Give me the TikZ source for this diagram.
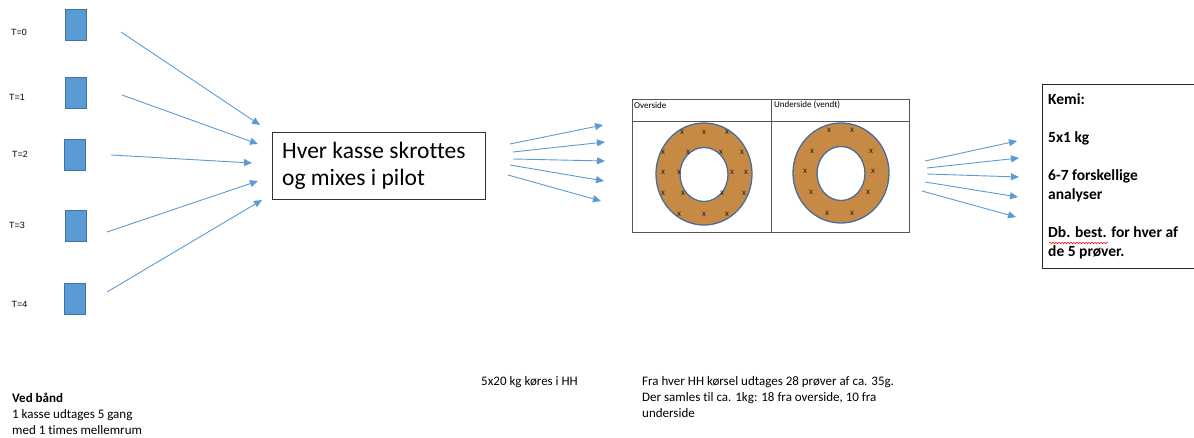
\documentclass[tikz,border=0pt]{standalone}
\usepackage{fontspec}
\setmainfont{Carlito}[Ligatures=NoCommon]
\newfontfamily\arialf{Liberation Sans}
\usetikzlibrary{arrows.meta,decorations.pathmorphing}
\definecolor{boxblue}{HTML}{5B9BD5}
\definecolor{boxedge}{HTML}{41729F}
\definecolor{arrblue}{HTML}{5B9BD5}
\definecolor{ringfill}{HTML}{C68A45}
\definecolor{ringedge}{HTML}{4A6C9B}
\definecolor{tablegray}{HTML}{555555}
\tikzset{
  crate/.style={draw=boxedge,fill=boxblue,line width=0.8pt,minimum width=21pt,minimum height=31pt,inner sep=0pt},
  tlabel/.style={font=\arialf\fontsize{9}{11}\selectfont,inner sep=0pt},
  flow/.style={draw=arrblue,line width=0.9pt,-{Triangle[length=8pt,width=7pt]}},
  mainbox/.style={draw=black!80,line width=0.9pt,minimum width=213pt,minimum height=67pt,inner sep=0pt},
  bodytext/.style={font=\fontsize{13}{16}\selectfont,align=left,inner sep=0pt,anchor=north west},
  xmark/.style={font=\fontsize{9}{10}\selectfont,text=black!85,inner sep=0pt},
  ring/.style={fill=ringfill,draw=ringedge,line width=1.3pt,even odd rule},
}
\begin{document}
\begin{tikzpicture}[x=1pt,y=-1pt]
\useasboundingbox (0,0) rectangle (1194,438);
% crates
\node[crate] (c0) at (75.5,25) {};
\node[crate] (c1) at (76,92.5) {};
\node[crate] (c2) at (74.5,154.5) {};
\node[crate] (c3) at (75.5,225.5) {};
\node[crate] (c4) at (74.5,298.5) {};
\node[tlabel] (t0) at (19,32) {T=0};
\node[tlabel] (t1) at (17,97) {T=1};
\node[tlabel] (t2) at (20,154) {T=2};
\node[tlabel] (t3) at (17,225) {T=3};
\node[tlabel] (t4) at (19.5,304) {T=4};
% main box
\node[mainbox] (mix) at (378.5,165.5) {};
\node[font=\fontsize{23.5}{27}\selectfont,align=left,anchor=west,inner sep=0pt] (mixtxt) at (282,166) {Hver kasse skrottes\\og mixes i pilot};
% left arrows
\coordinate (s0) at (121,32);  \coordinate (e0) at (260,125);
\coordinate (s1) at (122,95);  \coordinate (e1) at (258,144);
\coordinate (s2) at (111,155); \coordinate (e2) at (252,163);
\coordinate (s3) at (107,232); \coordinate (e3) at (258,181);
\coordinate (s4) at (107,292); \coordinate (e4) at (262,200);
\foreach \i in {0,...,4} {\draw[flow] (s\i) -- (e\i);}
% middle arrows
\coordinate (m0) at (510,144); \coordinate (n0) at (603,125);
\coordinate (m1) at (513,152); \coordinate (n1) at (605,142);
\coordinate (m2) at (513,159); \coordinate (n2) at (605,161);
\coordinate (m3) at (510,165); \coordinate (n3) at (604,181);
\coordinate (m4) at (508,175); \coordinate (n4) at (601,201);
\foreach \i in {0,...,4} {\draw[flow] (m\i) -- (n\i);}
% table
\coordinate (tbTL) at (632,99);
\coordinate (tbBR) at (909,232);
\draw[tablegray,line width=0.8pt] (tbTL) rectangle (tbBR);
\draw[tablegray,line width=0.8pt] (632,121) -- (909,121);
\draw[tablegray,line width=0.8pt] (771,99) -- (771,232);
\node[font=\fontsize{9}{10}\selectfont,anchor=west,inner sep=0pt] (hov) at (634,105) {Overside};
\node[font=\fontsize{9}{10}\selectfont,anchor=west,inner sep=0pt] (hun) at (774,105) {Underside (vendt)};
% rings
\path[ring] (704,174) ellipse [x radius=48,y radius=51] (704,174.5) ellipse [x radius=24,y radius=27];
\path[ring] (841,173) ellipse [x radius=48,y radius=50] (841,173.5) ellipse [x radius=24,y radius=27];
\foreach \p [count=\k] in {(682,132),(704,132),(727,132),(663,152),(688,152),(721,152),(742,152),(663,172),(679,172),(732,172),(746,172),(663,193),(683,193),(722,193),(744,193),(679,214),(704,214),(727,214)} {\node[xmark] (xl\k) at \p {x};}
\foreach \p [count=\k] in {(829,130),(852,130),(812,151),(871,151),(805,171),(873,171),(811,192),(868,192),(827,213),(852,213)} {\node[xmark] (xr\k) at \p {x};}
% right arrows
\coordinate (r0) at (925,161); \coordinate (q0) at (1017,141);
\coordinate (r1) at (927,168); \coordinate (q1) at (1019,158);
\coordinate (r2) at (927,174); \coordinate (q2) at (1019,177);
\coordinate (r3) at (925,182); \coordinate (q3) at (1018,197);
\coordinate (r4) at (922,191); \coordinate (q4) at (1016,217);
\foreach \i in {0,...,4} {\draw[flow] (r\i) -- (q\i);}
% Kemi box
\draw[black!85,line width=0.9pt] (1042,84) rectangle (1197,268);
\node[font=\bfseries\fontsize{15.5}{19}\selectfont,align=left,anchor=north west,inner sep=0pt] (kemi) at (1048,93) {Kemi:\\[19pt]5x1 kg\\[19pt]6-7 forskellige\\analyser\\[19pt]Db. best. for hver af\\de 5 prøver.};
\draw[red,line width=0.5pt,decorate,decoration={snake,segment length=3pt,amplitude=0.8pt}] (1049,243) -- (1108,243);
% bottom texts
\node[bodytext] (ved) at (12,393) {\textbf{Ved bånd}\\1 kasse udtages 5 gang\\med 1 times mellemrum};
\node[bodytext] (hh) at (481,376) {5x20 kg køres i HH};
\node[bodytext] (fra) at (642,376) {Fra hver HH kørsel udtages 28 prøver af ca. 35g.\\Der samles til ca. 1kg: 18 fra overside, 10 fra\\underside};
\end{tikzpicture}
\end{document}
